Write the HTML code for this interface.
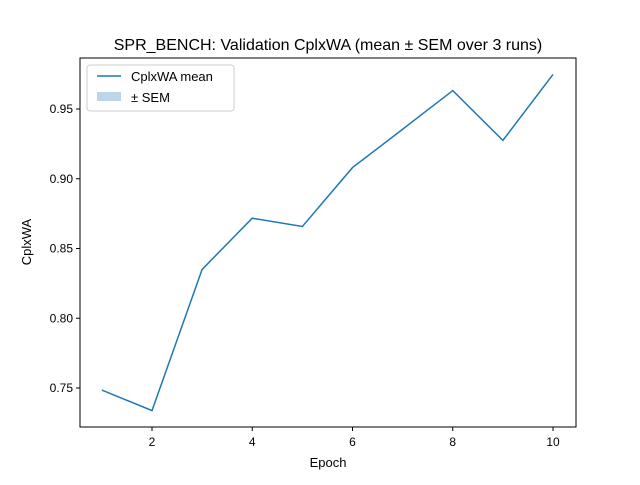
<!DOCTYPE html>
<html><head><meta charset="utf-8"><style>
body{margin:0;background:#fff}
svg text{font-family:"Liberation Sans","DejaVu Sans",sans-serif;fill:#000}
</style></head><body>
<svg id="chart" width="640" height="480" xmlns="http://www.w3.org/2000/svg">
<rect width="640" height="480" fill="#fff"/>
<text x="328" y="50" font-size="16" text-anchor="middle">SPR_BENCH: Validation CplxWA (mean ± SEM over 3 runs)</text>
<g id="plot"></g>
<rect x="80" y="58" width="496" height="369" fill="none" stroke="#000" stroke-width="1"/>
<text x="328" y="467" font-size="13" text-anchor="middle">Epoch</text>
<text x="31" y="242" font-size="13" text-anchor="middle" transform="rotate(-90 31 242)">CplxWA</text>
<g>
<rect x="87" y="65" width="147" height="46" rx="3" fill="#fff" stroke="#ccc"/>
<line x1="97" y1="76" x2="121" y2="76" stroke="#1f77b4" stroke-width="1.5"/>
<text x="131" y="81" font-size="13">CplxWA mean</text>
<rect x="97" y="92" width="24" height="9" fill="#1f77b4" opacity="0.3"/>
<text x="131" y="102" font-size="13">± SEM</text>
</g>
</svg>
<script>
const epochs=[1,2,3,4,5,6,7,8,9,10];
const meanVals=[0.7485,0.7338,0.835,0.8717,0.8658,0.908,0.9355,0.9632,0.9275,0.9748];
const semVals=[0,0,0,0,0,0,0,0,0,0];
const xTicks=[2,4,6,8,10];
const yTicks=[0.75,0.80,0.85,0.90,0.95];
const yTickLabels=["0.75","0.80","0.85","0.90","0.95"];
const NS="http://www.w3.org/2000/svg";
const xs=v=>152+(v-2)*50.125;
const ys=v=>388-(v-0.75)/0.05*69.75;
const g=document.getElementById('plot');
function mk(t,a){const e=document.createElementNS(NS,t);for(const k in a)e.setAttribute(k,a[k]);g.appendChild(e);return e;}
xTicks.forEach(t=>{
const l=mk('line',{x1:xs(t),x2:xs(t),y1:427,y2:431,stroke:'#000'});


const tx=mk('text',{x:xs(t),y:446,'font-size':12,'text-anchor':'middle'});tx.textContent=t;


});
yTicks.forEach((t,i)=>{
const l=mk('line',{x1:76,x2:80,y1:ys(t),y2:ys(t),stroke:'#000'});


const tx=mk('text',{x:73,y:ys(t)+4,'font-size':12,'text-anchor':'end'});tx.textContent=yTickLabels[i];


});
let up=epochs.map((e,i)=>xs(e)+','+ys(meanVals[i]+semVals[i]));
let dn=epochs.map((e,i)=>xs(e)+','+ys(meanVals[i]-semVals[i])).reverse();
const band=mk('polygon',{points:up.concat(dn).join(' '),fill:'#1f77b4',opacity:0.3});


const line=mk('polyline',{points:epochs.map((e,i)=>xs(e)+','+ys(meanVals[i])).join(' '),fill:'none',stroke:'#1f77b4','stroke-width':1.5});


</script>
</body></html>
